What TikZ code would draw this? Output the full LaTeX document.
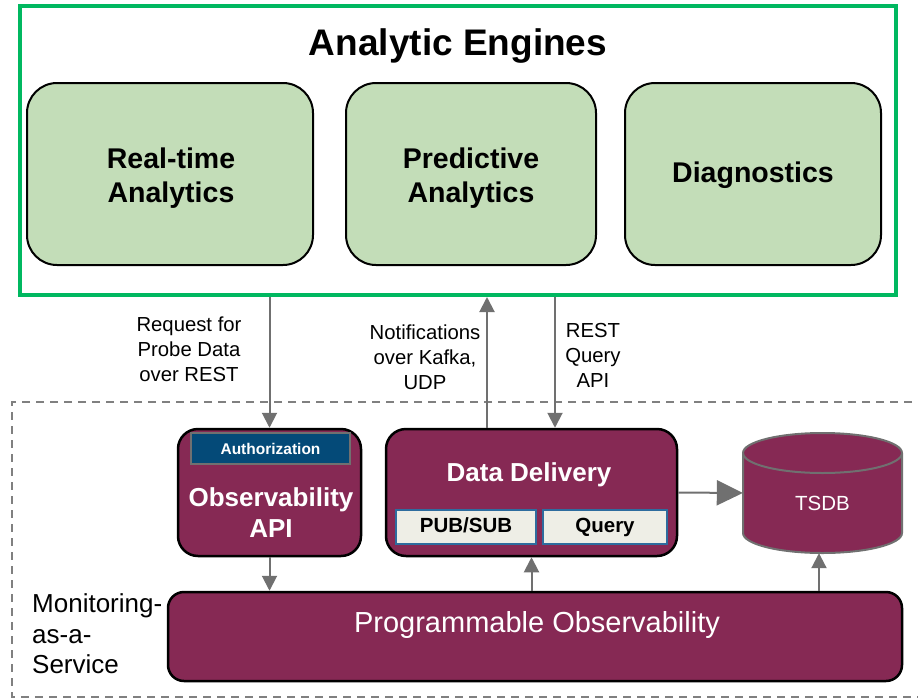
\documentclass[tikz,border=0pt]{standalone}
\usepackage{fontspec}
\setmainfont{Liberation Sans}
\usetikzlibrary{arrows.meta}

\definecolor{enginegreen}{RGB}{0,184,96}
\definecolor{enginefill}{RGB}{195,221,184}
\definecolor{maroon}{RGB}{134,41,84}
\definecolor{authblue}{RGB}{4,74,120}
\definecolor{subfill}{RGB}{238,238,230}
\definecolor{subborder}{RGB}{46,108,158}
\definecolor{linkgray}{RGB}{112,112,112}
\definecolor{dashgray}{RGB}{128,128,128}

\tikzset{
  engine/.style={draw=black, line width=2pt, fill=enginefill, rounded corners=30pt, inner sep=0pt},
  enginetext/.style={align=center, font=\bfseries\fontsize{28.5}{34}\selectfont, inner sep=0pt},
  service/.style={draw=black, line width=2.5pt, fill=maroon, rounded corners=20pt, inner sep=0pt},
  subbox/.style={draw=subborder, line width=2pt, fill=subfill, inner sep=0pt,
    text height=14.5pt, text depth=4.5pt, font=\bfseries\fontsize{20.5}{24}\selectfont},
  link/.style={draw=linkgray, line width=2pt, -{Triangle[length=15pt,width=15pt]}},
  biglink/.style={draw=linkgray, line width=2pt, -{Triangle[length=26pt,width=25pt]}},
  linklabel/.style={align=center, font=\fontsize{20.3}{25}\selectfont, inner sep=0pt},
}

\begin{document}
\begin{tikzpicture}[x=1pt, y=-1pt]
  \useasboundingbox (0,0) rectangle (918,699);

  % Monitoring-as-a-Service frame
  \draw[dashgray, line width=1.5pt, dash pattern=on 8pt off 6pt]
    (940,402) -- (12,402) -- (12,697) -- (940,697);

  % Analytic engines
  \node[draw=enginegreen, line width=4pt, minimum width=876pt, minimum height=289pt,
        inner sep=0pt] (engines) at (458,150.5) {};
  \node[font=\bfseries\fontsize{37}{44}\selectfont] (title) at (458,46) {Analytic Engines};
  \node[engine, minimum width=286pt, minimum height=182pt] (rt) at (170,174) {};
  \node[engine, minimum width=250pt, minimum height=182pt] (pred) at (471,174) {};
  \node[engine, minimum width=256pt, minimum height=182pt] (diag) at (753,174) {};
  \node[enginetext] (rttext) at (171,178) {Real-time\\Analytics};
  \node[enginetext] (predtext) at (471,178) {Predictive\\Analytics};
  \node[enginetext] (diagtext) at (753,175) {Diagnostics};

  % Observability API
  \node[service, minimum width=183pt, minimum height=127pt] (obs) at (269.5,492.5) {};
  \node[draw=linkgray, line width=1.5pt, fill=authblue, minimum width=159pt, minimum height=31pt,
        inner sep=0pt, text=white, font=\bfseries\fontsize{15.5}{18}\selectfont]
    (auth) at (270.5,448.5) {Authorization};
  \node[text=white, align=center, font=\bfseries\fontsize{26}{31}\selectfont, inner sep=0pt]
    (obstext) at (271,513) {Observability\\API};

  % Data delivery
  \node[service, minimum width=291pt, minimum height=127pt] (dd) at (531.5,492.5) {};
  \node[text=white, font=\bfseries\fontsize{26}{31}\selectfont, inner sep=0pt]
    (ddtext) at (529,475) {Data Delivery};
  \node[subbox, minimum width=140pt, minimum height=34pt] (pubsub) at (466,527) {PUB/SUB};
  \node[subbox, minimum width=124pt, minimum height=34pt] (query) at (605,527) {Query};

  % Time-series database
  \node[minimum width=159pt, minimum height=120pt, inner sep=0pt] (tsdb) at (822.5,493) {};
  \draw[draw=linkgray, line width=2pt, fill=maroon]
    (743,453) -- (743,533) arc[start angle=180, end angle=360, x radius=79.5pt, y radius=20pt]
    -- (902,453) arc[start angle=0, end angle=180, x radius=79.5pt, y radius=20pt] -- cycle;
  \draw[draw=linkgray, line width=2pt]
    (743,453) arc[start angle=180, end angle=360, x radius=79.5pt, y radius=20pt];
  \node[text=white, font=\fontsize{20.5}{24}\selectfont] (tsdbtext) at ([yshift=-10pt]tsdb.center) {TSDB};

  % Programmable observability
  \node[service, rounded corners=16pt, minimum width=734pt, minimum height=89pt] (prog)
    at (535,636.5) {};
  \node[text=white, font=\fontsize{29}{34}\selectfont, inner sep=0pt] (progtext)
    at ([xshift=2pt, yshift=12pt]prog.center) {Programmable Observability};

  \node[anchor=west, align=left, font=\fontsize{26}{30.5}\selectfont, inner sep=0pt]
    (maas) at (32,634) {Monitoring-\\as-a-\\Service};

  % Connectors
  \coordinate (notifyup) at ([xshift=-44.5pt]dd.north);
  \coordinate (restdown) at ([xshift=23.5pt]dd.north);
  \draw[link] (obs.north |- engines.south) -- (obs.north);
  \draw[link] (notifyup) -- (notifyup |- engines.south);
  \draw[link] (restdown |- engines.south) -- (restdown);
  \draw[biglink] (dd.east) -- (tsdb.west);
  \draw[link] (obs.south) -- (obs.south |- prog.north);
  \draw[link] (dd.south |- prog.north) -- (dd.south);
  \draw[link] ([xshift=-3.5pt]tsdb.south |- prog.north) -- ([xshift=-3.5pt]tsdb.south);

  % Connector labels
  \node[linklabel] (reqlabel) at (189,349) {Request for\\Probe Data\\over REST};
  \node[linklabel] (notlabel) at (425,357) {Notifications\\over Kafka,\\UDP};
  \node[linklabel] (restlabel) at (593,355) {REST\\Query\\API};
\end{tikzpicture}
\end{document}
